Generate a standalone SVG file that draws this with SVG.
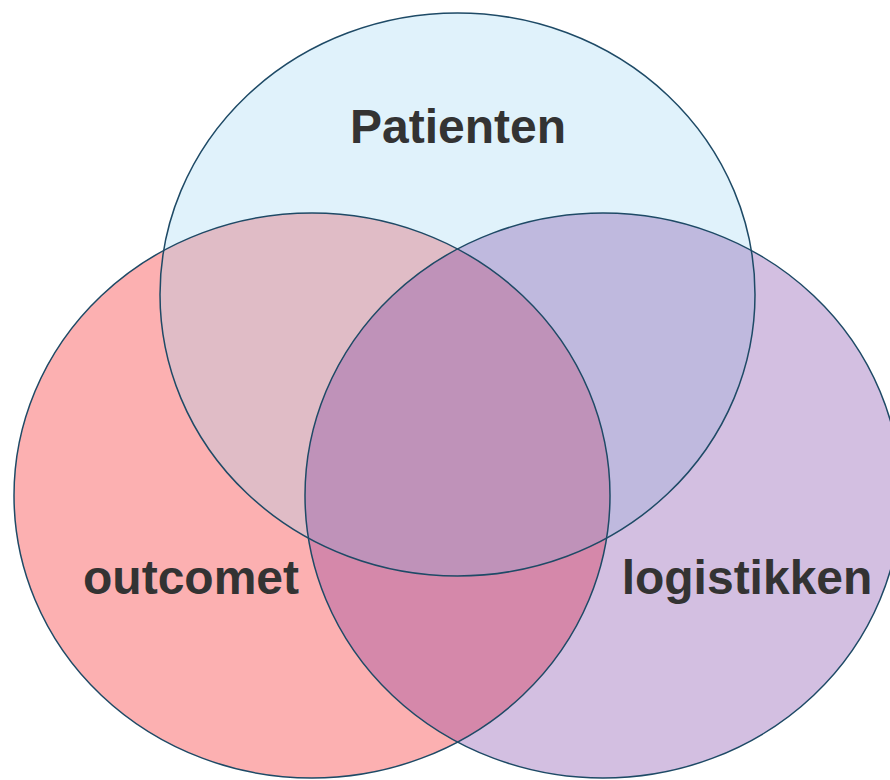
<svg xmlns="http://www.w3.org/2000/svg" width="890" height="780" viewBox="0 0 890 780">
<style>
.lbl{font-family:"Liberation Sans",Arial,sans-serif;font-weight:bold;font-size:48px;fill:#333333;text-anchor:middle}
.ol{fill:none;stroke:#1E4A66;stroke-width:1.5}
</style>
<defs>
<ellipse id="eT" cx="457.5" cy="294.5" rx="297.5" ry="281.5"/>
<ellipse id="eL" cx="312" cy="495.5" rx="298" ry="282.5"/>
<ellipse id="eR" cx="603" cy="495.5" rx="298" ry="282.5"/>
<clipPath id="cT"><use href="#eT"/></clipPath>
<clipPath id="cL"><use href="#eL"/></clipPath>
<clipPath id="cTL" clip-path="url(#cL)"><use href="#eT"/></clipPath>
</defs>
<rect width="890" height="780" fill="#FFFFFF"/>
<g id="top"><use href="#eT" fill="#E0F2FB"/></g>
<g id="left"><use href="#eL" fill="#FCB0B1"/></g>
<g id="right"><use href="#eR" fill="#D3BFE1"/></g>
<g id="overlaps">
<use href="#eL" fill="#E0BCC6" clip-path="url(#cT)"/>
<use href="#eR" fill="#BFB9DE" clip-path="url(#cT)"/>
<use href="#eR" fill="#D588AA" clip-path="url(#cL)"/>
<use href="#eR" fill="#BF92B9" clip-path="url(#cTL)"/>
</g>
<g id="outlines">
<use href="#eT" class="ol"/>
<use href="#eL" class="ol"/>
<use href="#eR" class="ol"/>
</g>
<g id="labels">
<text class="lbl" x="458" y="143">Patienten</text>
<text class="lbl" x="191" y="594">outcomet</text>
<text class="lbl" x="747" y="594">logistikken</text>
</g>
</svg>
